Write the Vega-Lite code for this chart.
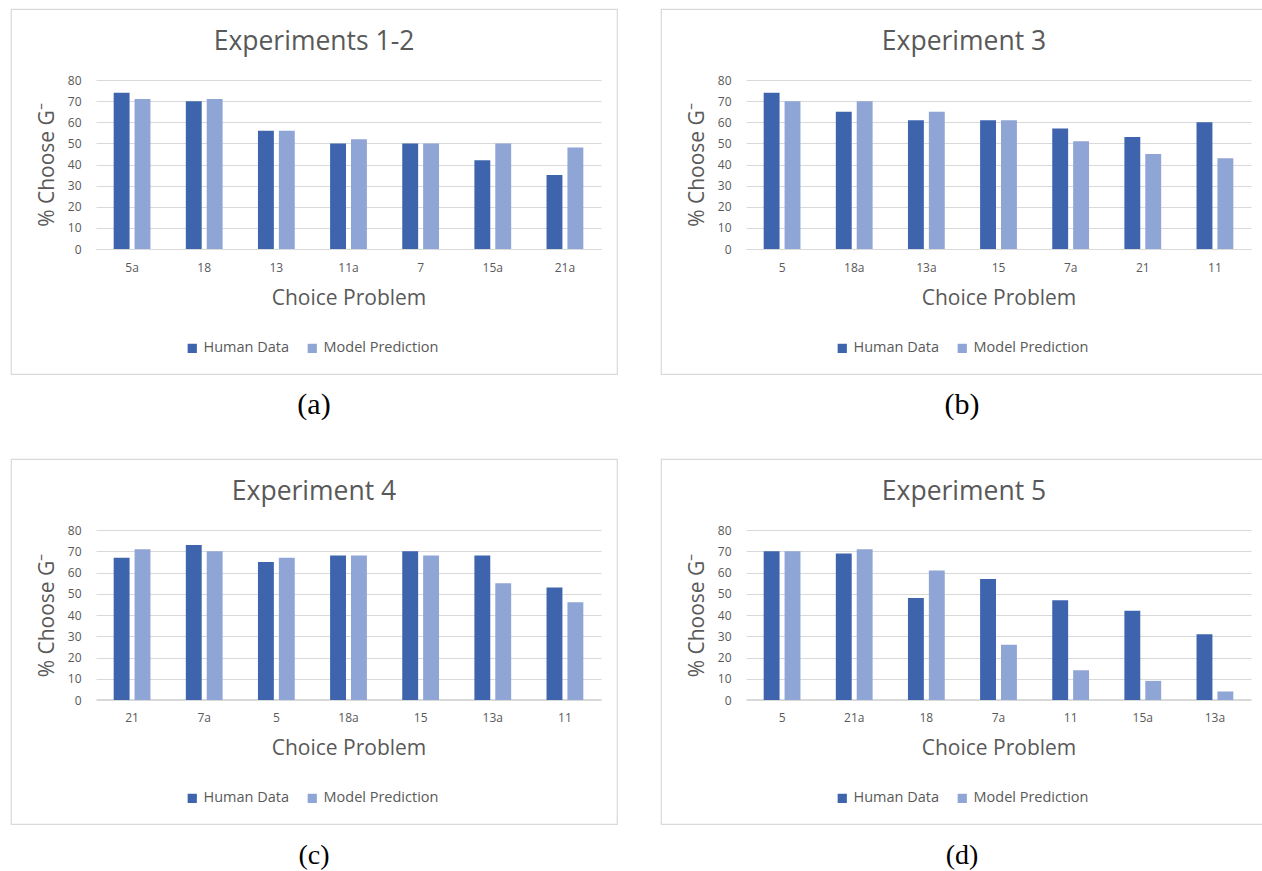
{
  "$schema": "https://vega.github.io/schema/vega-lite/v6.json",
  "padding": {"left": 10, "top": 8, "right": 0, "bottom": 0},
  "background": "white",
  "datasets": {
    "a": [
      {"problem": "5a", "series": "Human Data", "value": 74}, {"problem": "5a", "series": "Model Prediction", "value": 71},
      {"problem": "18", "series": "Human Data", "value": 70}, {"problem": "18", "series": "Model Prediction", "value": 71},
      {"problem": "13", "series": "Human Data", "value": 56}, {"problem": "13", "series": "Model Prediction", "value": 56},
      {"problem": "11a", "series": "Human Data", "value": 50}, {"problem": "11a", "series": "Model Prediction", "value": 52},
      {"problem": "7", "series": "Human Data", "value": 50}, {"problem": "7", "series": "Model Prediction", "value": 50},
      {"problem": "15a", "series": "Human Data", "value": 42}, {"problem": "15a", "series": "Model Prediction", "value": 50},
      {"problem": "21a", "series": "Human Data", "value": 35}, {"problem": "21a", "series": "Model Prediction", "value": 48}
    ],
    "b": [
      {"problem": "5", "series": "Human Data", "value": 74}, {"problem": "5", "series": "Model Prediction", "value": 70},
      {"problem": "18a", "series": "Human Data", "value": 65}, {"problem": "18a", "series": "Model Prediction", "value": 70},
      {"problem": "13a", "series": "Human Data", "value": 61}, {"problem": "13a", "series": "Model Prediction", "value": 65},
      {"problem": "15", "series": "Human Data", "value": 61}, {"problem": "15", "series": "Model Prediction", "value": 61},
      {"problem": "7a", "series": "Human Data", "value": 57}, {"problem": "7a", "series": "Model Prediction", "value": 51},
      {"problem": "21", "series": "Human Data", "value": 53}, {"problem": "21", "series": "Model Prediction", "value": 45},
      {"problem": "11", "series": "Human Data", "value": 60}, {"problem": "11", "series": "Model Prediction", "value": 43}
    ],
    "c": [
      {"problem": "21", "series": "Human Data", "value": 67}, {"problem": "21", "series": "Model Prediction", "value": 71},
      {"problem": "7a", "series": "Human Data", "value": 73}, {"problem": "7a", "series": "Model Prediction", "value": 70},
      {"problem": "5", "series": "Human Data", "value": 65}, {"problem": "5", "series": "Model Prediction", "value": 67},
      {"problem": "18a", "series": "Human Data", "value": 68}, {"problem": "18a", "series": "Model Prediction", "value": 68},
      {"problem": "15", "series": "Human Data", "value": 70}, {"problem": "15", "series": "Model Prediction", "value": 68},
      {"problem": "13a", "series": "Human Data", "value": 68}, {"problem": "13a", "series": "Model Prediction", "value": 55},
      {"problem": "11", "series": "Human Data", "value": 53}, {"problem": "11", "series": "Model Prediction", "value": 46}
    ],
    "d": [
      {"problem": "5", "series": "Human Data", "value": 70}, {"problem": "5", "series": "Model Prediction", "value": 70},
      {"problem": "21a", "series": "Human Data", "value": 69}, {"problem": "21a", "series": "Model Prediction", "value": 71},
      {"problem": "18", "series": "Human Data", "value": 48}, {"problem": "18", "series": "Model Prediction", "value": 61},
      {"problem": "7a", "series": "Human Data", "value": 57}, {"problem": "7a", "series": "Model Prediction", "value": 26},
      {"problem": "11", "series": "Human Data", "value": 47}, {"problem": "11", "series": "Model Prediction", "value": 14},
      {"problem": "15a", "series": "Human Data", "value": 42}, {"problem": "15a", "series": "Model Prediction", "value": 9},
      {"problem": "13a", "series": "Human Data", "value": 31}, {"problem": "13a", "series": "Model Prediction", "value": 4}
    ],
    "capA": [{"cap": "(a)"}],
    "capB": [{"cap": "(b)"}],
    "capC": [{"cap": "(c)"}],
    "capD": [{"cap": "(d)"}]
  },
  "config": {
    "font": "Open Sans",
    "view": {"stroke": "#d9d9d9", "strokeWidth": 1.2},
    "axis": {"labelFont": "Open Sans", "titleFont": "Open Sans", "labelColor": "#595959", "titleColor": "#595959", "titleFontWeight": "normal", "labelFontSize": 12, "titleFontSize": 21, "gridColor": "#d9d9d9", "gridWidth": 1, "domainColor": "#d9d9d9", "domainWidth": 1, "ticks": false},
    "legend": {"labelFont": "Open Sans", "labelFontSize": 14.5, "labelColor": "#595959", "symbolType": "square", "symbolSize": 85, "symbolStrokeWidth": 0, "columnPadding": 15, "labelOffset": 4},
    "title": {"font": "Open Sans", "fontSize": 26.5, "fontWeight": "normal", "color": "#595959", "anchor": "middle"}
  },
  "vconcat": [
    {"hconcat": [
      {"width": 606, "height": 365, "data": {"name": "a"},
       "title": {"text": "Experiments 1-2", "offset": -34, "baseline": "middle", "dy": 25},
       "mark": {"type": "bar"},
       "encoding": {
         "x": {"field": "problem", "type": "nominal", "sort": null, "scale": {"range": [85, 590], "paddingInner": 0.49, "paddingOuter": 0.245}, "axis": {"title": "Choice Problem", "labelAngle": 0, "offset": -125, "labelPadding": 13, "titlePadding": 14, "grid": false}},
         "xOffset": {"field": "series", "type": "nominal", "sort": ["Human Data", "Model Prediction"], "scale": {"paddingInner": 0.24, "paddingOuter": 0}},
         "y": {"field": "value", "type": "quantitative", "scale": {"domain": [0, 80], "range": [240, 71], "nice": false}, "axis": {"title": "% Choose G⁻", "offset": -85, "values": [0, 10, 20, 30, 40, 50, 60, 70, 80], "domain": false, "labelPadding": 15, "titlePadding": 10}},
         "color": {"field": "series", "type": "nominal", "scale": {"domain": ["Human Data", "Model Prediction"], "range": ["#3d64ad", "#8ea5d5"]}, "legend": {"orient": "none", "legendX": 174, "legendY": 332, "direction": "horizontal", "title": null}}
       }},
      {"width": 606, "height": 365, "data": {"name": "b"},
       "title": {"text": "Experiment 3", "offset": -34, "baseline": "middle", "dy": 25},
       "mark": {"type": "bar"},
       "encoding": {
         "x": {"field": "problem", "type": "nominal", "sort": null, "scale": {"range": [85, 590], "paddingInner": 0.49, "paddingOuter": 0.245}, "axis": {"title": "Choice Problem", "labelAngle": 0, "offset": -125, "labelPadding": 13, "titlePadding": 14, "grid": false}},
         "xOffset": {"field": "series", "type": "nominal", "sort": ["Human Data", "Model Prediction"], "scale": {"paddingInner": 0.24, "paddingOuter": 0}},
         "y": {"field": "value", "type": "quantitative", "scale": {"domain": [0, 80], "range": [240, 71], "nice": false}, "axis": {"title": "% Choose G⁻", "offset": -85, "values": [0, 10, 20, 30, 40, 50, 60, 70, 80], "domain": false, "labelPadding": 15, "titlePadding": 10}},
         "color": {"field": "series", "type": "nominal", "scale": {"domain": ["Human Data", "Model Prediction"], "range": ["#3d64ad", "#8ea5d5"]}, "legend": {"orient": "none", "legendX": 174, "legendY": 332, "direction": "horizontal", "title": null}}
       }}
    ], "spacing": 42, "resolve": {"scale": {"x": "independent", "y": "independent", "color": "independent"}}},
    {"hconcat": [
      {"width": 606, "height": 61, "data": {"name": "capA"}, "view": {"stroke": null},
       "mark": {"type": "text", "font": "Liberation Serif", "fontSize": 30, "dy": -12, "color": "#000000"},
       "encoding": {"text": {"field": "cap", "type": "nominal"}}},
      {"width": 606, "height": 61, "data": {"name": "capB"}, "view": {"stroke": null},
       "mark": {"type": "text", "font": "Liberation Serif", "fontSize": 30, "dy": -12, "color": "#000000"},
       "encoding": {"text": {"field": "cap", "type": "nominal"}}}
    ], "spacing": 42},
    {"hconcat": [
      {"width": 606, "height": 365, "data": {"name": "c"},
       "title": {"text": "Experiment 4", "offset": -34, "baseline": "middle", "dy": 25},
       "mark": {"type": "bar"},
       "encoding": {
         "x": {"field": "problem", "type": "nominal", "sort": null, "scale": {"range": [85, 590], "paddingInner": 0.49, "paddingOuter": 0.245}, "axis": {"title": "Choice Problem", "labelAngle": 0, "offset": -125, "labelPadding": 13, "titlePadding": 14, "grid": false}},
         "xOffset": {"field": "series", "type": "nominal", "sort": ["Human Data", "Model Prediction"], "scale": {"paddingInner": 0.24, "paddingOuter": 0}},
         "y": {"field": "value", "type": "quantitative", "scale": {"domain": [0, 80], "range": [241, 71], "nice": false}, "axis": {"title": "% Choose G⁻", "offset": -85, "values": [0, 10, 20, 30, 40, 50, 60, 70, 80], "domain": false, "labelPadding": 15, "titlePadding": 10}},
         "color": {"field": "series", "type": "nominal", "scale": {"domain": ["Human Data", "Model Prediction"], "range": ["#3d64ad", "#8ea5d5"]}, "legend": {"orient": "none", "legendX": 174, "legendY": 332, "direction": "horizontal", "title": null}}
       }},
      {"width": 606, "height": 365, "data": {"name": "d"},
       "title": {"text": "Experiment 5", "offset": -34, "baseline": "middle", "dy": 25},
       "mark": {"type": "bar"},
       "encoding": {
         "x": {"field": "problem", "type": "nominal", "sort": null, "scale": {"range": [85, 590], "paddingInner": 0.49, "paddingOuter": 0.245}, "axis": {"title": "Choice Problem", "labelAngle": 0, "offset": -125, "labelPadding": 13, "titlePadding": 14, "grid": false}},
         "xOffset": {"field": "series", "type": "nominal", "sort": ["Human Data", "Model Prediction"], "scale": {"paddingInner": 0.24, "paddingOuter": 0}},
         "y": {"field": "value", "type": "quantitative", "scale": {"domain": [0, 80], "range": [241, 71], "nice": false}, "axis": {"title": "% Choose G⁻", "offset": -85, "values": [0, 10, 20, 30, 40, 50, 60, 70, 80], "domain": false, "labelPadding": 15, "titlePadding": 10}},
         "color": {"field": "series", "type": "nominal", "scale": {"domain": ["Human Data", "Model Prediction"], "range": ["#3d64ad", "#8ea5d5"]}, "legend": {"orient": "none", "legendX": 174, "legendY": 332, "direction": "horizontal", "title": null}}
       }}
    ], "spacing": 42, "resolve": {"scale": {"x": "independent", "y": "independent", "color": "independent"}}},
    {"hconcat": [
      {"width": 606, "height": 20, "data": {"name": "capC"}, "view": {"stroke": null},
       "mark": {"type": "text", "font": "Liberation Serif", "fontSize": 28, "dy": 10, "color": "#000000"},
       "encoding": {"text": {"field": "cap", "type": "nominal"}}},
      {"width": 606, "height": 20, "data": {"name": "capD"}, "view": {"stroke": null},
       "mark": {"type": "text", "font": "Liberation Serif", "fontSize": 28, "dy": 10, "color": "#000000"},
       "encoding": {"text": {"field": "cap", "type": "nominal"}}}
    ], "spacing": 42}
  ],
  "spacing": 11,
  "resolve": {"scale": {"x": "independent", "y": "independent", "color": "independent"}}
}
